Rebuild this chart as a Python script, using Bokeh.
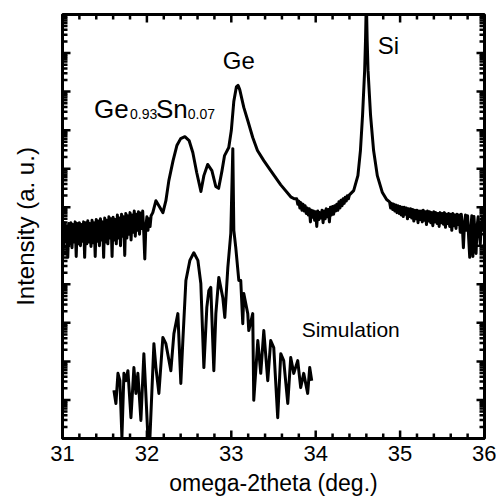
from bokeh.plotting import figure
from bokeh.models import (Range1d, SingleIntervalTicker, LogTicker,
                          CustomJSTickFormatter, Label, ColumnDataSource)
from bokeh.embed import file_html
from bokeh.resources import INLINE

# ---------------- data ----------------
# measured omega-2theta scan: angle (deg) and log10(intensity)
meas_deg = [
    # background noise below the GeSn layer peak
    31.0000, 31.0125, 31.0250, 31.0375, 31.0500, 31.0625, 31.0750, 31.0875, 31.1000, 31.1125,
    31.1250, 31.1375, 31.1500, 31.1625, 31.1750, 31.1875, 31.2000, 31.2125, 31.2250, 31.2375,
    31.2500, 31.2625, 31.2750, 31.2875, 31.3000, 31.3125, 31.3250, 31.3375, 31.3500, 31.3625,
    31.3750, 31.3875, 31.4000, 31.4125, 31.4250, 31.4375, 31.4500, 31.4625, 31.4750, 31.4875,
    31.5000, 31.5125, 31.5250, 31.5375, 31.5500, 31.5625, 31.5750, 31.5875, 31.6000, 31.6125,
    31.6250, 31.6375, 31.6500, 31.6625, 31.6750, 31.6875, 31.7000, 31.7125, 31.7250, 31.7375,
    31.7500, 31.7625, 31.7750, 31.7875, 31.8000, 31.8125, 31.8250, 31.8375, 31.8500, 31.8625,
    31.8750, 31.8875, 31.9000, 31.9125, 31.9250, 31.9375, 31.9500, 31.9625, 31.9750, 31.9875,
    32.0000, 32.0125, 32.0250, 32.0375, 32.0500,
    # GeSn peak, fringe, Ge peak and its tail
    32.070, 32.107, 32.142, 32.190, 32.225, 32.260, 32.310, 32.355, 32.400, 32.450,
    32.500, 32.544, 32.590, 32.640, 32.675, 32.720, 32.770, 32.816, 32.850, 32.890,
    32.920, 32.970, 33.000, 33.030, 33.060, 33.080, 33.100, 33.148, 33.195, 33.254,
    33.310, 33.385, 33.467, 33.586, 33.704, 33.745,
    # noisy valley between Ge and Si
    33.7750, 33.7875, 33.8000, 33.8125, 33.8250, 33.8375, 33.8500, 33.8625, 33.8750, 33.8875,
    33.9000, 33.9125, 33.9250, 33.9375, 33.9500, 33.9625, 33.9750, 33.9875, 34.0000, 34.0125,
    34.0250, 34.0375, 34.0500, 34.0625, 34.0750, 34.0875, 34.1000, 34.1125, 34.1250, 34.1375,
    34.1500, 34.1625, 34.1750, 34.1875, 34.2000, 34.2125, 34.2250, 34.2375, 34.2500, 34.2625,
    34.2750, 34.2875, 34.3000, 34.3125, 34.3250, 34.3375, 34.3500, 34.3625, 34.3750, 34.3875,
    34.4000,
    # Si substrate peak
    34.450, 34.500, 34.530, 34.555, 34.580, 34.590, 34.600, 34.610, 34.620, 34.650,
    34.686, 34.730, 34.790, 34.840,
    # noisy background above Si
    34.8750, 34.8875, 34.9000, 34.9125, 34.9250, 34.9375, 34.9500, 34.9625, 34.9750, 34.9875,
    35.0000, 35.0125, 35.0250, 35.0375, 35.0500, 35.0625, 35.0750, 35.0875, 35.1000, 35.1125,
    35.1250, 35.1375, 35.1500, 35.1625, 35.1750, 35.1875, 35.2000, 35.2125, 35.2250, 35.2375,
    35.2500, 35.2625, 35.2750, 35.2875, 35.3000, 35.3125, 35.3250, 35.3375, 35.3500, 35.3625,
    35.3750, 35.3875, 35.4000, 35.4125, 35.4250, 35.4375, 35.4500, 35.4625, 35.4750, 35.4875,
    35.5000, 35.5125, 35.5250, 35.5375, 35.5500, 35.5625, 35.5750, 35.5875, 35.6000, 35.6125,
    35.6250, 35.6375, 35.6500, 35.6625, 35.6750, 35.6875, 35.7000, 35.7125, 35.7250, 35.7375,
    35.7500, 35.7625, 35.7750, 35.7875, 35.8000, 35.8125, 35.8250, 35.8375, 35.8500, 35.8625,
    35.8750, 35.8875, 35.9000, 35.9125, 35.9250, 35.9375, 35.9500, 35.9625, 35.9750, 35.9875,
    36.0000,
]
meas_log = [
    5.55, 5.00, 5.60, 5.10, 5.52, 4.70, 5.58, 5.05, 5.60, 4.95,
    5.55, 5.10, 5.62, 4.72, 5.58, 5.05, 5.60, 5.00, 5.55, 5.12,
    5.62, 4.70, 5.60, 5.05, 5.65, 5.10, 5.58, 4.98, 5.66, 5.08,
    5.60, 4.72, 5.68, 5.12, 5.64, 5.00, 5.70, 5.15, 5.62, 4.70,
    5.72, 5.10, 5.66, 5.05, 5.75, 5.20, 5.70, 4.72, 5.74, 5.15,
    5.68, 5.05, 5.80, 5.20, 5.72, 5.00, 5.82, 5.25, 5.75, 4.75,
    5.84, 5.20, 5.78, 5.30, 5.86, 5.15, 5.80, 5.35, 5.90, 5.25,
    5.82, 5.40, 5.88, 5.30, 5.85, 5.45, 5.90, 5.35, 4.66, 5.50,
    5.75, 5.40, 5.70, 5.50, 5.78,
    5.86, 6.17, 6.04, 5.86, 6.17, 6.69, 7.21, 7.60, 7.78, 7.83,
    7.73, 7.42, 6.90, 6.41, 6.82, 7.11, 6.95, 6.54, 6.49, 6.95,
    7.34, 7.55, 7.99, 8.75, 9.12, 9.16, 9.05, 8.59, 8.25, 7.81,
    7.47, 7.21, 6.95, 6.58, 6.27, 6.22,
    6.22, 6.08, 6.16, 5.98, 6.12, 5.92, 6.08, 5.90, 6.04, 5.84,
    5.98, 5.80, 5.96, 5.62, 5.92, 5.74, 5.90, 5.66, 5.88, 5.50,
    5.90, 5.68, 5.86, 5.72, 5.92, 5.60, 5.90, 5.70, 5.96, 5.75,
    5.94, 5.62, 6.00, 5.80, 6.02, 5.82, 6.04, 5.90, 6.08, 5.92,
    6.14, 5.98, 6.18, 6.04, 6.22, 6.10, 6.26, 6.16, 6.30, 6.22,
    6.32,
    6.43, 6.82, 7.47, 8.38, 9.55, 10.32, 11.40, 10.32, 9.55, 8.38,
    7.47, 6.82, 6.38, 6.20,
    6.14, 5.98, 6.10, 5.94, 6.08, 5.90, 6.06, 5.86, 6.04, 5.84,
    6.02, 5.80, 6.00, 5.76, 6.00, 5.82, 5.98, 5.70, 5.96, 5.76,
    5.96, 5.72, 5.94, 5.64, 5.92, 5.70, 5.92, 5.60, 5.90, 5.68,
    5.90, 5.62, 5.92, 5.66, 5.88, 5.55, 5.90, 5.64, 5.88, 5.60,
    5.86, 5.52, 5.88, 5.62, 5.86, 5.58, 5.84, 5.50, 5.86, 5.60,
    5.84, 5.56, 5.86, 5.48, 5.82, 5.58, 5.84, 5.50, 5.82, 5.40,
    5.84, 5.52, 5.80, 5.45, 5.82, 5.55, 5.80, 5.35, 5.82, 5.50,
    4.95, 5.55, 5.80, 5.40, 5.78, 5.20, 4.70, 5.45, 5.78, 4.72,
    5.76, 5.30, 4.80, 5.50, 5.75, 5.35, 5.05, 5.60, 5.72, 5.40,
    5.70,
]

# simulated curve: angle (deg) and log10(intensity)
sim_deg = [
    31.609, 31.633, 31.657, 31.680, 31.704, 31.728, 31.751, 31.775, 31.811, 31.846,
    31.870, 31.893, 31.929, 31.964, 31.976, 32.012, 32.036, 32.083, 32.107, 32.142,
    32.189, 32.225, 32.284, 32.320, 32.367, 32.402, 32.426, 32.462, 32.509, 32.556,
    32.604, 32.639, 32.675, 32.710, 32.734, 32.757, 32.793, 32.817, 32.852, 32.899,
    32.923, 32.959, 32.994, 33.018, 33.030, 33.053, 33.089, 33.112, 33.136, 33.148,
    33.195, 33.207, 33.254, 33.266, 33.314, 33.349, 33.385, 33.432, 33.467, 33.503,
    33.550, 33.586, 33.621, 33.669, 33.704, 33.740, 33.787, 33.822, 33.858, 33.905,
    33.929, 33.953,
]
sim_log = [
    1.25, 0.91, 1.69, 1.50, 0.03, 1.69, 1.50, 1.76, 0.54, 1.84,
    1.17, 1.69, 0.47, 2.20, 1.69, 0.03, 0.03, 2.46, 1.84, 1.17,
    2.62, 2.46, 1.76, 2.72, 3.24, 1.43, 2.54, 4.10, 4.62, 4.82,
    4.62, 4.02, 1.84, 3.40, 3.84, 3.92, 1.76, 3.24, 4.18, 3.66,
    3.14, 4.44, 5.32, 7.52, 5.40, 4.95, 4.10, 4.10, 2.98, 3.76,
    3.24, 2.80, 3.24, 0.99, 2.54, 1.69, 2.80, 1.50, 2.54, 2.36,
    0.54, 2.20, 2.02, 0.91, 2.10, 1.69, 2.02, 1.32, 1.69, 1.17,
    1.84, 1.50,
]

# tick positions
x_major = [31, 32, 33, 34, 35, 36]
x_minor = [31.2, 31.4, 31.6, 31.8, 32.2, 32.4, 32.6, 32.8, 33.2, 33.4, 33.6, 33.8,
           34.2, 34.4, 34.6, 34.8, 35.2, 35.4, 35.6, 35.8]
decades = list(range(0, 12))
mantissas = [2, 3, 4, 5, 6, 7, 8, 9]
y_major = [10 ** d for d in decades]
y_minor = [m * 10 ** d for d in decades[:-1] for m in mantissas]

X0, X1 = 31, 36
LOG0, LOG1 = 0, 11

meas_src = ColumnDataSource(dict(x=meas_deg, y=[10 ** v for v in meas_log]))
sim_src = ColumnDataSource(dict(x=sim_deg, y=[10 ** v for v in sim_log]))

FONT = "Liberation Sans"

p = figure(width=496, height=501, x_range=Range1d(X0, X1),
           y_range=Range1d(10 ** LOG0, 10 ** LOG1),
           y_axis_type="log", output_backend="svg", toolbar_location=None,
           min_border_left=62, min_border_right=12, min_border_top=14,
           min_border_bottom=63)
p.xgrid.visible = False
p.ygrid.visible = False
p.outline_line_color = "black"
p.outline_line_width = 3
p.background_fill_color = "white"
p.border_fill_color = "white"

blank = CustomJSTickFormatter(code="return ''")


def no_ticks(ax):
    ax.major_tick_in = 0
    ax.major_tick_out = 0
    ax.minor_tick_in = 0
    ax.minor_tick_out = 0
    ax.axis_line_width = 3
    ax.axis_line_color = "black"


xa = p.xaxis[0]
xa.ticker = SingleIntervalTicker(interval=1, num_minor_ticks=5)
no_ticks(xa)
xa.major_label_text_font = FONT
xa.major_label_text_font_size = "22px"
xa.major_label_text_color = "black"
xa.major_label_standoff = 7
xa.axis_label = "omega-2theta (deg.)"
xa.axis_label_text_font = FONT
xa.axis_label_text_font_size = "23px"
xa.axis_label_text_font_style = "normal"
xa.axis_label_text_color = "black"
xa.axis_label_standoff = 6

ya = p.yaxis[0]
ya.ticker = LogTicker(desired_num_ticks=12)
ya.formatter = blank
no_ticks(ya)
ya.major_label_standoff = 0
ya.axis_label = "Intensity (a. u.)"
ya.axis_label_text_font = FONT
ya.axis_label_text_font_size = "24px"
ya.axis_label_text_font_style = "normal"
ya.axis_label_text_color = "black"
ya.axis_label_standoff = 24

# inward tick marks on all four sides, drawn through the plot's scales
px_per_deg = 422 / (X1 - X0)
px_per_decade = 424 / (LOG1 - LOG0)
MAJ, MIN = 8, 5
TICK_W = 2.5


def xticks(vals, length):
    d = length / px_per_decade
    n = len(vals)
    p.segment(x0=vals, y0=[10 ** LOG0] * n, x1=vals, y1=[10 ** (LOG0 + d)] * n,
              line_color="black", line_width=TICK_W)
    p.segment(x0=vals, y0=[10 ** LOG1] * n, x1=vals, y1=[10 ** (LOG1 - d)] * n,
              line_color="black", line_width=TICK_W)


def yticks(vals, length):
    d = length / px_per_deg
    n = len(vals)
    p.segment(x0=[X0] * n, y0=vals, x1=[X0 + d] * n, y1=vals,
              line_color="black", line_width=TICK_W)
    p.segment(x0=[X1] * n, y0=vals, x1=[X1 - d] * n, y1=vals,
              line_color="black", line_width=TICK_W)


xticks(x_major, MAJ)
xticks(x_minor, MIN)
yticks(y_major, MAJ)
yticks(y_minor, MIN)

p.line("x", "y", source=meas_src, line_color="black", line_width=3, line_join="round")
p.line("x", "y", source=sim_src, line_color="black", line_width=3, line_join="round")


def lab(text, x, logy, size):
    p.add_layout(Label(x=x, y=10 ** logy, text=text, text_font=FONT,
                       text_font_size=size, text_color="black",
                       text_baseline="alphabetic", text_align="left"))


lab("Ge", 31.373, 8.55, "26px")
lab("0.93", 31.80, 8.42, "14px")
lab("Sn", 32.107, 8.55, "26px")
lab("0.07", 32.485, 8.42, "14px")
lab("Ge", 32.899, 9.80, "24px")
lab("Si", 34.734, 10.19, "24px")
lab("Simulation", 33.834, 2.82, "21px")

open("out.html", "w").write(file_html(p, INLINE))
